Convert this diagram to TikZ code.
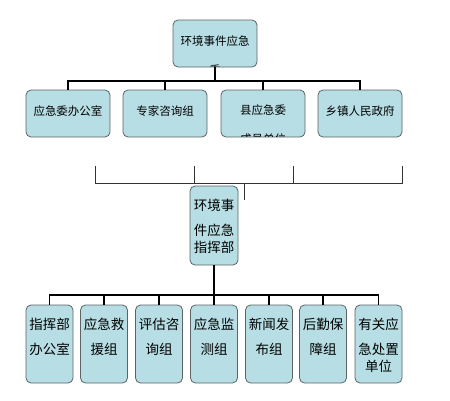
\documentclass[tikz,border=0pt]{standalone}
\usepackage{fontspec}
\newfontfamily\cjk{Noto Sans CJK SC}
\definecolor{boxc}{RGB}{183,222,228}
\definecolor{boxd}{RGB}{90,100,100}
\begin{document}
\begin{tikzpicture}[x=1pt,y=-1pt,
  box/.style={draw=boxd,fill=boxc,rounded corners=5pt,line width=0.8pt,inner sep=0pt},
  wbox/.style={box,minimum width=84pt,minimum height=47pt},
  nbox/.style={box,minimum width=47pt,minimum height=78pt},
  txt/.style={inner sep=0pt,align=center,font=\cjk\fontsize{11.5}{21}\selectfont},
  ctxt/.style={inner sep=0pt,align=center,anchor=north,font=\cjk\fontsize{11.5}{29}\selectfont},
  btxt/.style={inner sep=0pt,align=center,anchor=north,font=\cjk\fontsize{13.5}{25}\selectfont},
  thick line/.style={line width=1.8pt,black},
  thin line/.style={line width=0.7pt,black!80}]
\useasboundingbox (0,0) rectangle (450,400);
% top
\node[wbox] (top) at (215,43.5) {};
\begin{scope}
\clip (173,20) rectangle (257,66);
\node[ctxt] (topt) at (215,36) {环境事件应急\\委};
\end{scope}
% row 2
\node[wbox] (r1) at (68,113.5) {};
\node[wbox] (r2) at (165,113.5) {};
\node[wbox] (r3) at (263,113.5) {};
\node[wbox] (r4) at (360,113.5) {};
\node[txt] (r1t) at (68,111) {应急委办公室};
\node[txt] (r2t) at (165,111) {专家咨询组};
\begin{scope}
\clip (221,90) rectangle (305,136);
\node[ctxt] (r3t) at (263,105) {县应急委\\成员单位};
\end{scope}
\node[txt] (r4t) at (360,111) {乡镇人民政府};
% connectors top
\coordinate (hb) at (215,81);
\draw[thick line] (top.south) -- (hb);
\draw[thick line] (r1.north) |- (hb) -| (r4.north);
\draw[thick line] (r2.north) -- (r2.north |- hb);
\draw[thick line] (r3.north) -- (r3.north |- hb);
% thin bracket
\coordinate (c1) at (95,166);
\coordinate (c2) at (194,166);
\coordinate (c3) at (293,166);
\coordinate (c4) at (402,166);
\coordinate (cl) at (95,183);
\coordinate (cr) at (402,183);
\coordinate (cm) at (244,183);
\coordinate (cm2) at (244,200);
\draw[thin line] (c1) -- (cl) -- (cr) -- (c4);
\draw[thin line] (c2) -- (c2 |- cl);
\draw[thin line] (c3) -- (c3 |- cl);
\draw[thin line] (cm) -- (cm2);
% middle
\node[nbox,minimum width=48pt,minimum height=79pt] (mid) at (214,225.5) {};
\node[btxt] (midt) at (214,199) {环境事\\件应急\\[-8pt]指挥部};
% bottom row
\foreach \i/\x/\t in {1/49.5/{指挥部\\办公室},2/104/{应急救\\援组},3/159/{评估咨\\询组},4/214/{应急监\\测组},5/269/{新闻发\\布组},6/323/{后勤保\\障组},7/378.5/{有关应\\急处置\\[-8pt]单位}}{
  \node[nbox] (b\i) at (\x,344) {};
  \node[btxt] (b\i t) at (\x,318) {\t};
}
\coordinate (hb2) at (214,295);
\draw[thick line] (mid.south) -- (hb2);
\draw[thick line] (b1.north) |- (hb2) -| (b7.north);
\foreach \i in {2,...,6}{
  \draw[thick line] (b\i.north) -- (b\i.north |- hb2);
}
\end{tikzpicture}
\end{document}
